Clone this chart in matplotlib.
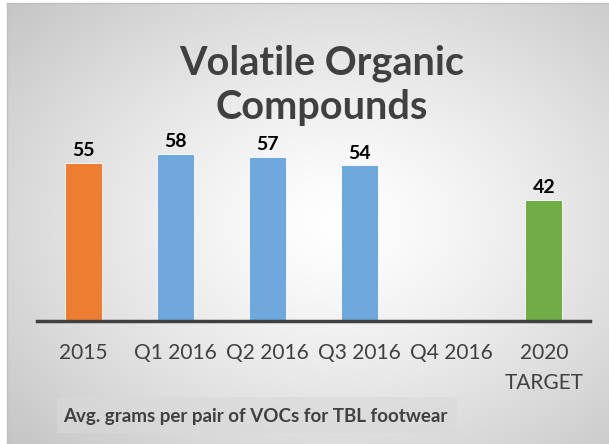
import numpy as np
import matplotlib
matplotlib.use("Agg")
import matplotlib.pyplot as plt
from matplotlib.patches import Rectangle

categories = ["2015", "Q1 2016", "Q2 2016", "Q3 2016", "Q4 2016", "2020\nTARGET"]
values = [55, 58, 57, 54, None, 42]
bar_colors = ["#ED7D31", "#6FA8DC", "#6FA8DC", "#6FA8DC", "#6FA8DC", "#70AD47"]
title_lines = ["Volatile Organic", "Compounds"]
subtitle = "Avg. grams per pair of VOCs for TBL footwear"

W, H = 609, 444
fig = plt.figure(figsize=(W / 100, H / 100), dpi=100)
fig.patch.set_facecolor("white")

# background panel with radial gradient
bx0, by1 = 7 / W, 1 - 3 / H
bg = fig.add_axes([bx0, 0, 1 - bx0, by1])
ny, nx = 300, 400
yy, xx = np.mgrid[0:ny, 0:nx]
cx, cy = nx * 0.55, ny * 0.5
r = np.sqrt(((xx - cx) / nx) ** 2 + ((yy - cy) / ny) ** 2)
r = r / r.max()
v = 1.0 - 0.23 * r ** 1.3
img = np.dstack([v, v, v])
bg.imshow(img, aspect="auto", extent=[0, 1, 0, 1], interpolation="bilinear")
bg.set_xlim(0, 1)
bg.set_ylim(0, 1)
bg.set_xticks([])
bg.set_yticks([])
for s in ["right", "bottom"]:
    bg.spines[s].set_visible(False)
for s in ["left", "top"]:
    bg.spines[s].set_color("#bfbfbf")
    bg.spines[s].set_linewidth(1.0)

# subtitle box
fig.patches.append(Rectangle((57 / W, 1 - 433 / H), 400 / W, 36 / H,
                             transform=fig.transFigure, facecolor="#d9d9d9",
                             edgecolor="none", alpha=0.6, zorder=1))
fig.text(63 / W, 1 - 416 / H, subtitle, fontsize=13.5, fontweight="bold",
         family="Lato", color="#404040", va="center", ha="left", zorder=3)

# title
for line, yb in zip(title_lines, [75, 119]):
    fig.text(322 / W, 1 - yb / H, line, fontsize=28.5, fontweight="bold",
             family="Lato", color="#404040", ha="center", va="baseline")

ax = fig.add_axes([37 / W, 123 / H, 553 / W, 201.6 / H])
ax.patch.set_alpha(0)
x = np.arange(len(categories))
for i, (val, col) in enumerate(zip(values, bar_colors)):
    if val is None:
        continue
    ax.bar(i, val, width=0.4, color=col, edgecolor="#ffffff", linewidth=0.6,
           zorder=2)
    ax.annotate(str(val), (i, val), xytext=(0, 5), textcoords="offset points",
                ha="center", va="baseline", fontsize=14, fontweight="bold",
                family="Lato", color="black")
ax.set_xlim(-0.5, len(categories) - 0.5)
ax.set_ylim(0, 70)
ax.set_yticks([])
ax.set_xticks(x)
ax.set_xticklabels(categories, fontsize=15, family="Lato", color="#404040",
                   linespacing=1.6)
ax.tick_params(axis="x", length=0, pad=16)
for s in ["left", "right", "top"]:
    ax.spines[s].set_visible(False)
ax.spines["bottom"].set_color("#404040")
ax.spines["bottom"].set_linewidth(2.5)
ax.spines["bottom"].set_zorder(3)

fig.savefig("out.png", dpi=100)
